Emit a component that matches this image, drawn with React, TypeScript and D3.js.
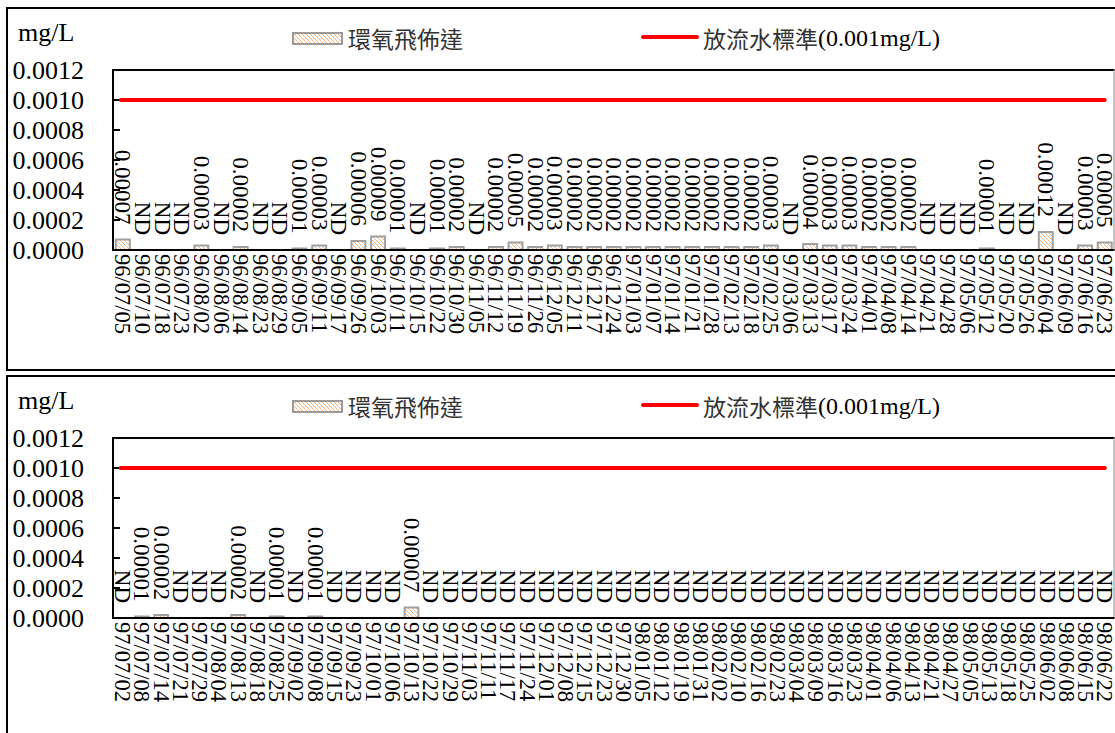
import React from "react";
import * as d3 from "d3";

const dates1 = ["96/07/05","96/07/10","96/07/18","96/07/23","96/08/02","96/08/06","96/08/14","96/08/23","96/08/29","96/09/05","96/09/11","96/09/17","96/09/26","96/10/03","96/10/11","96/10/15","96/10/22","96/10/30","96/11/05","96/11/12","96/11/19","96/11/26","96/12/05","96/12/11","96/12/17","96/12/24","97/01/03","97/01/07","97/01/14","97/01/21","97/01/28","97/02/13","97/02/18","97/02/25","97/03/06","97/03/13","97/03/17","97/03/24","97/04/01","97/04/08","97/04/14","97/04/21","97/04/28","97/05/06","97/05/12","97/05/20","97/05/26","97/06/04","97/06/09","97/06/16","97/06/23"];
const values1: (number | null)[] = [0.00007,null,null,null,0.00003,null,0.00002,null,null,0.00001,0.00003,null,0.00006,0.00009,0.00001,null,0.00001,0.00002,null,0.00002,0.00005,0.00002,0.00003,0.00002,0.00002,0.00002,0.00002,0.00002,0.00002,0.00002,0.00002,0.00002,0.00002,0.00003,null,0.00004,0.00003,0.00003,0.00002,0.00002,0.00002,null,null,null,0.00001,null,null,0.00012,null,0.00003,0.00005];

const dates2 = ["97/07/02","97/07/08","97/07/14","97/07/21","97/07/29","97/08/04","97/08/13","97/08/18","97/08/25","97/09/02","97/09/08","97/09/15","97/09/23","97/10/01","97/10/06","97/10/13","97/10/22","97/10/29","97/11/03","97/11/11","97/11/17","97/11/24","97/12/01","97/12/08","97/12/15","97/12/23","97/12/30","98/01/05","98/01/12","98/01/19","98/01/31","98/02/02","98/02/10","98/02/16","98/02/23","98/03/04","98/03/09","98/03/16","98/03/23","98/04/01","98/04/06","98/04/13","98/04/21","98/04/27","98/05/05","98/05/13","98/05/18","98/05/25","98/06/02","98/06/08","98/06/15","98/06/22"];
const values2: (number | null)[] = [null,0.00001,0.00002,null,null,null,0.00002,null,0.00001,null,0.00001,null,null,null,null,0.00007,null,null,null,null,null,null,null,null,null,null,null,null,null,null,null,null,null,null,null,null,null,null,null,null,null,null,null,null,null,null,null,null,null,null,null,null];

const yTicks = [0, 0.0002, 0.0004, 0.0006, 0.0008, 0.001, 0.0012];
const standard = 0.001;
const seriesName = "環氧飛佈達";
const stdNameCJK = "放流水標準";
const stdNameLatin = "(0.001mg/L)";
const unitLabel = "mg/L";

const SERIF = "'Times New Roman', 'Liberation Serif', serif";
const CJK = "'Noto Sans CJK TC', 'Noto Sans CJK SC', sans-serif";

function Panel({ dates, values, top }: { dates: string[]; values: (number | null)[]; top: number }) {
  const plotLeft = 113;
  const plotRight = 1114.5;
  const plotTop = top + 62;
  const plotBottom = top + 242;
  const x = d3.scaleBand<string>().domain(dates).range([plotLeft, plotRight]).paddingInner(0.29).paddingOuter(0.145);
  const y = d3.scaleLinear().domain([0, 0.0012]).range([plotBottom, plotTop]);
  const bw = x.bandwidth();
  const firstC = (x(dates[0]) as number) + bw / 2;
  const lastC = (x(dates[dates.length - 1]) as number) + bw / 2;
  return (
    <g>
      <rect x={7} y={top} width={1120} height={top < 100 ? 362 : 380} fill="white" stroke="black" strokeWidth={2} />
      <text x={18} y={top + 24} fontFamily={SERIF} fontSize={26} dominantBaseline="central">{unitLabel}</text>
      {/* legend */}
      <rect x={293} y={top + 25} width={49} height={11} fill="url(#hatch)" stroke="#999" strokeWidth={2} />
      <text x={348} y={top + 30} fontFamily={CJK} fontSize={23} fill="#333" dominantBaseline="central">{seriesName}</text>
      <line x1={643} x2={697} y1={top + 29} y2={top + 29} stroke="#ff0000" strokeWidth={4} strokeLinecap="round" />
      <text x={703} y={top + 30} fontFamily={CJK} fontSize={23} fill="#333" dominantBaseline="central">
        {stdNameCJK}
        <tspan fontFamily={SERIF} fontSize={24} fill="#000">{stdNameLatin}</tspan>
      </text>
      {/* y axis labels */}
      {yTicks.map((t) => (
        <g key={t}>
          <text x={84} y={y(t)} textAnchor="end" dominantBaseline="central" fontFamily={SERIF} fontSize={26}>{t.toFixed(4)}</text>
          <line x1={plotLeft} x2={plotLeft + 7} y1={y(t)} y2={y(t)} stroke="black" strokeWidth={2} />
        </g>
      ))}
      {/* plot frame */}
      <line x1={plotLeft} x2={plotRight} y1={plotTop} y2={plotTop} stroke="black" strokeWidth={2} />
      <line x1={plotRight - 0.5} x2={plotRight - 0.5} y1={plotTop} y2={plotBottom} stroke="#888" strokeWidth={1} />
      {/* bars */}
      {dates.map((d, i) => {
        const v = values[i];
        if (v == null) return null;
        const yy = y(v);
        return <rect key={d} x={x(d)} y={yy} width={bw} height={plotBottom - yy} fill="url(#hatch)" stroke="#a0a0a0" strokeWidth={2} />;
      })}
      {/* standard line */}
      <line x1={firstC - 2} x2={lastC} y1={y(standard)} y2={y(standard)} stroke="#ff0000" strokeWidth={4} strokeLinecap="round" />
      {/* data labels */}
      {dates.map((d, i) => {
        const v = values[i];
        const cx = (x(d) as number) + bw / 2;
        const yEnd = y(v == null ? 0 : v) - 15;
        return (
          <text key={d} transform={`translate(${cx},${yEnd}) rotate(90)`} textAnchor="end" dominantBaseline="central" fontFamily={SERIF} fontSize={23}>
            {v == null ? "ND" : v.toFixed(5)}
          </text>
        );
      })}
      {/* axes */}
      <line x1={plotLeft} x2={plotLeft} y1={plotTop - 1} y2={plotBottom + 1} stroke="black" strokeWidth={2} />
      <line x1={plotLeft} x2={plotRight} y1={plotBottom} y2={plotBottom} stroke="black" strokeWidth={2} />
      {/* x labels */}
      {dates.map((d) => {
        const cx = (x(d) as number) + bw / 2;
        return (
          <text key={d} transform={`translate(${cx},${plotBottom + 4}) rotate(90)`} textAnchor="start" dominantBaseline="central" fontFamily={SERIF} fontSize={22.5}>
            {d}
          </text>
        );
      })}
    </g>
  );
}

export default function App() {
  return (
    <svg width={1115} height={733} style={{ position: "absolute", left: 0, top: 0, background: "white" }}>
      <defs>
        <pattern id="hatch" patternUnits="userSpaceOnUse" width={4} height={4}>
          <rect width={4} height={4} fill="white" />
          <path d="M0,0 L4,4 M-1,3 L1,5 M3,-1 L5,1" stroke="#f6b27a" strokeWidth={1} />
        </pattern>
      </defs>
      <Panel dates={dates1} values={values1} top={8} />
      <Panel dates={dates2} values={values2} top={376} />
    </svg>
  );
}
